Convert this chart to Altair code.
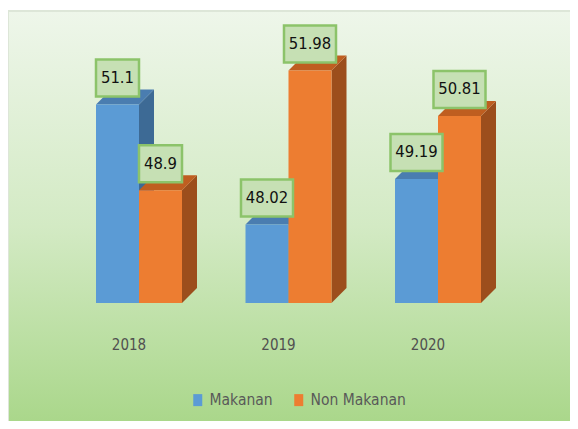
import altair as alt
import pandas as pd

# ---- data ----
years = ["2018", "2019", "2020"]
series = ["Makanan", "Non Makanan"]
makanan = [51.1, 48.02, 49.19]
non_makanan = [48.9, 51.98, 50.81]

# ---- layout / style constants ----
W, H = 562, 413
BASE = 46.0
X_RANGE = [131, 430]      # pixel centres of first/last group
Y_DOMAIN = [46, 52]
Y_RANGE = [295, 295 - 6 * 38.9]
PX_X = (X_RANGE[1] - X_RANGE[0]) / 2.0
PX_Y = (Y_RANGE[0] - Y_RANGE[1]) / 6.0
BAR_PX = 43
DEPTH_PX = 15
FONT = "DejaVu Sans Condensed"
FRONT = {"Makanan": "#5b9bd5", "Non Makanan": "#ed7d31"}
SIDE = {"Makanan": "#3d6a95", "Non Makanan": "#9c4e1c"}
TOP = {"Makanan": "#4a7db0", "Non Makanan": "#bf5e20"}

w = BAR_PX / PX_X
dx = DEPTH_PX / PX_X
dy = DEPTH_PX / PX_Y

values = {"Makanan": makanan, "Non Makanan": non_makanan}

front_rows, face_rows, label_rows = [], [], []
for i, yr in enumerate(years):
    for s in series:
        v = values[s][i]
        left = i - w if s == "Makanan" else i
        right = left + w
        front_rows.append(dict(series=s, year=yr, x1=left, x2=right, y1=BASE, y2=v))
        fid = f"{yr}-{s}"
        face_rows += [
            dict(series=s, kind="side", face=fid, x=right, y=BASE, y2=v),
            dict(series=s, kind="side", face=fid, x=right + dx, y=BASE + dy, y2=v + dy),
        ]
        face_rows += [
            dict(series=s, kind="top", face=fid, x=left, y=v, y2=v),
            dict(series=s, kind="top", face=fid, x=left + dx, y=v, y2=v + dy),
            dict(series=s, kind="top", face=fid, x=right, y=v, y2=v + dy),
            dict(series=s, kind="top", face=fid, x=right + dx, y=v + dy, y2=v + dy),
        ]
        half = (21.5 if len(str(v)) <= 4 else 26) / PX_X
        cx = (left + right) / 2
        b1 = v + 8 / PX_Y
        b2 = v + 45 / PX_Y
        label_rows.append(dict(series=s, value=v, cx=cx, bx1=cx - half, bx2=cx + half,
                               by1=b1, by2=b2, by=(b1 + b2) / 2))

fronts = pd.DataFrame(front_rows)
faces = pd.DataFrame(face_rows)
labels = pd.DataFrame(label_rows)
year_df = pd.DataFrame({"idx": [0, 1, 2], "year": years})

xs = alt.Scale(domain=[0, 2], range=X_RANGE, zero=False, nice=False)
ys = alt.Scale(domain=Y_DOMAIN, range=Y_RANGE, zero=False, nice=False)

bg = alt.Chart(pd.DataFrame({"a": [0]})).mark_rect(
    fill=alt.Gradient(gradient="linear", x1=0, x2=0, y1=0, y2=1,
                      stops=[alt.GradientStop(offset=0, color="#eef6ea"),
                             alt.GradientStop(offset=0.5, color="#d3eac4"),
                             alt.GradientStop(offset=1, color="#a6d585")]),
    stroke="#dde6d8", strokeWidth=2,
).encode(x=alt.value(0), x2=alt.value(W + 20), y=alt.value(3), y2=alt.value(H + 20))

layers = [bg]
for s in series:
    for kind, col in (("side", SIDE[s]), ("top", TOP[s])):
        layers.append(
            alt.Chart(faces).transform_filter(
                (alt.datum.series == s) & (alt.datum.kind == kind)
            ).mark_area(color=col, opacity=1, interpolate="linear").encode(
                x=alt.X("x:Q", scale=xs, axis=None),
                y=alt.Y("y:Q", scale=ys, axis=None, stack=None),
                y2="y2:Q",
                detail="face:N",
            )
        )
    layers.append(
        alt.Chart(fronts).transform_filter(alt.datum.series == s).mark_rect().encode(
            x=alt.X("x1:Q", scale=xs, axis=None), x2="x2:Q",
            y=alt.Y("y1:Q", scale=ys, axis=None), y2="y2:Q",
            color=alt.Color("series:N",
                            scale=alt.Scale(domain=series, range=[FRONT[k] for k in series]),
                            legend=alt.Legend(orient="none", legendX=182, legendY=384,
                                              direction="horizontal", title=None,
                                              symbolType="M-0.75,-1H0.75V1H-0.75Z",
                                              symbolSize=144, symbolStrokeWidth=0,
                                              labelFont=FONT, labelFontSize=15.5,
                                              labelColor="#595959", labelOffset=4,
                                              columnPadding=18, padding=0)),
        )
    )

boxes = alt.Chart(labels).mark_rect(fill="#c6e0b4", stroke="#8cc36a", strokeWidth=2.5).encode(
    x=alt.X("bx1:Q", scale=xs, axis=None), x2="bx2:Q",
    y=alt.Y("by1:Q", scale=ys, axis=None), y2="by2:Q",
)
texts = alt.Chart(labels).mark_text(font=FONT, fontSize=16.5, color="#111111", baseline="middle").encode(
    x=alt.X("cx:Q", scale=xs, axis=None),
    y=alt.Y("by:Q", scale=ys, axis=None),
    text="value:Q",
)
year_text = alt.Chart(year_df).mark_text(font=FONT, fontSize=15, color="#505050", baseline="middle", dx=-10).encode(
    x=alt.X("idx:Q", scale=xs, axis=None),
    y=alt.value(337),
    text="year:N",
)

chart = alt.layer(*layers, boxes, texts, year_text).properties(
    width=W, height=H,
    autosize=alt.AutoSizeParams(type="none"),
    padding=0,
).configure_view(stroke=None)

chart.save("out.html", embed_options={"renderer": "svg", "actions": False})
